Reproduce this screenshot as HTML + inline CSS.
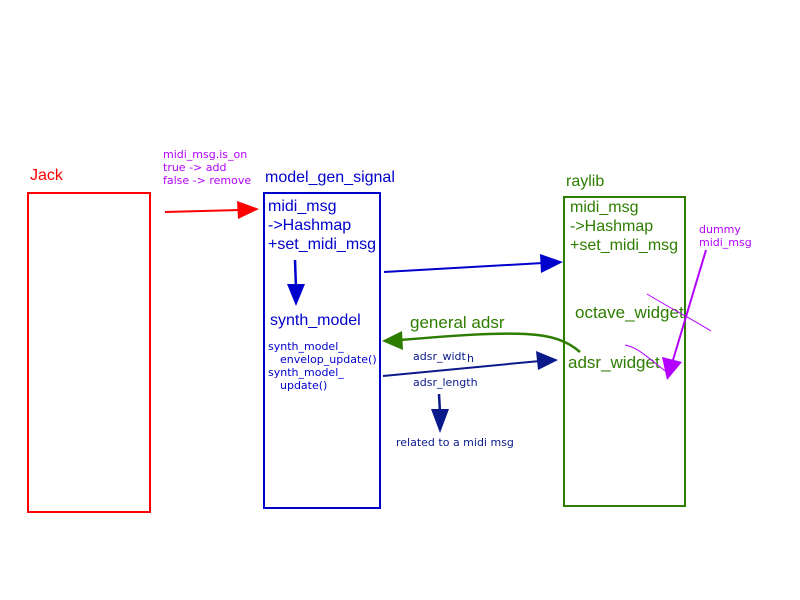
<!DOCTYPE html>
<html><head><meta charset="utf-8"><style>
html,body{margin:0;padding:0;background:#fff;}
svg{display:block;font-family:"DejaVu Sans","Liberation Sans",sans-serif;}
.b{font-family:"Liberation Sans",sans-serif;font-size:16px;}
.c{font-family:"Liberation Sans",sans-serif;font-size:17px;}
</style></head><body>
<svg width="800" height="600" viewBox="0 0 800 600" xmlns="http://www.w3.org/2000/svg">
<rect x="0" y="0" width="800" height="600" fill="#fff"/>
<text class="b" x="30" y="180" fill="#ff0000">Jack</text>
<rect x="28" y="193" width="122" height="319" fill="none" stroke="#ff0000" stroke-width="2"/>
<g font-size="11" fill="#b400ff">
<text x="163" y="158">midi_msg.is_on</text>
<text x="163" y="171">true -&gt; add</text>
<text x="163" y="184">false  -&gt; remove</text>
</g>
<line x1="165" y1="212" x2="240" y2="210" stroke="#ff0000" stroke-width="2"/>
<polygon points="259,209 237,201 238,219" fill="#ff0000"/>
<text class="b" x="265" y="182" fill="#0000cc">model_gen_signal</text>
<rect x="264" y="193" width="116" height="315" fill="none" stroke="#0000cc" stroke-width="2"/>
<g class="b" fill="#0000cc">
<text x="268" y="211">midi_msg</text>
<text x="268" y="230">-&gt;Hashmap</text>
<text x="268" y="249">+set_midi_msg</text>
<text x="270" y="325">synth_model</text>
</g>
<line x1="295" y1="260" x2="296" y2="288" stroke="#0000cc" stroke-width="2.5"/>
<polygon points="296,306 287,284 305,284" fill="#0000cc"/>
<g font-size="11" fill="#0000cc">
<text x="268" y="350">synth_model_</text>
<text x="280" y="363">envelop_update()</text>
<text x="268" y="376">synth_model_</text>
<text x="280" y="389">update()</text>
</g>
<line x1="384" y1="272" x2="543" y2="263" stroke="#0000cc" stroke-width="2"/>
<polygon points="563,262 540,254 541,273" fill="#0000cc"/>
<text class="c" x="410" y="328" fill="#2d7d00">general adsr</text>
<path d="M580,352 C555,330 520,330 400,340" fill="none" stroke="#2d7d00" stroke-width="2.5"/>
<polygon points="382,341 402,331 403,350" fill="#2d7d00"/>
<g font-size="11" fill="#0a1a8a">
<text x="413" y="360">adsr_widt</text><text x="467" y="362">h</text>
<text x="413" y="386">adsr_length</text>
<text x="396" y="446">related to a midi msg</text>
</g>
<line x1="383" y1="376" x2="540" y2="361" stroke="#0a1a8a" stroke-width="2"/>
<polygon points="558,360 536,351 538,370" fill="#0a1a8a"/>
<line x1="439" y1="394" x2="440" y2="413" stroke="#0a1a8a" stroke-width="2.5"/>
<polygon points="440,433 431,409 449,409" fill="#0a1a8a"/>
<text class="b" x="566" y="186" fill="#2d7d00">raylib</text>
<rect x="564" y="197" width="121" height="309" fill="none" stroke="#2d7d00" stroke-width="2"/>
<g class="b" fill="#2d7d00">
<text x="570" y="212">midi_msg</text>
<text x="570" y="231">-&gt;Hashmap</text>
<text x="570" y="250">+set_midi_msg</text>
</g>
<g class="c" fill="#2d7d00">
<text x="575" y="318">octave_widget</text>
<text x="568" y="368">adsr_widget</text>
</g>
<g font-size="11" fill="#b400ff">
<text x="699" y="233">dummy</text>
<text x="699" y="246">midi_msg</text>
</g>
<line x1="706" y1="250" x2="673" y2="360" stroke="#b400ff" stroke-width="2"/>
<polygon points="667,380 662,357 682,362" fill="#b400ff"/>
<path d="M647,294 C670,308 690,318 711,331" fill="none" stroke="#b400ff" stroke-width="1"/>
<path d="M625,345 C640,348 650,360 668,373" fill="none" stroke="#b400ff" stroke-width="1"/>
</svg>
</body></html>
